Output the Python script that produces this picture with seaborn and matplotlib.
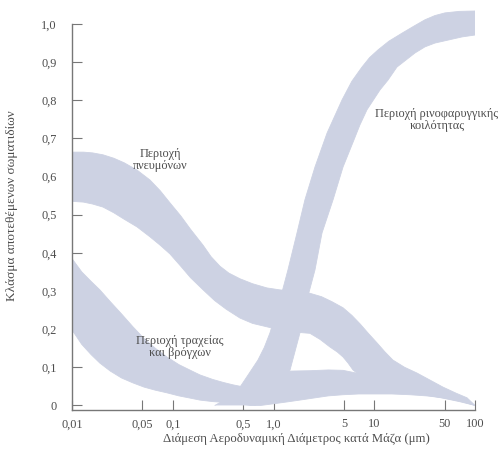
import matplotlib
matplotlib.use("Agg")
import matplotlib.pyplot as plt
from matplotlib.ticker import FixedLocator, FixedFormatter, NullLocator
import pandas as pd
import seaborn as sns

# Mass median aerodynamic diameter (μm) and deposited fraction along the
# upper and lower edges of each regional deposition band.
lung_upper_x = [0.01, 0.013, 0.016, 0.0203, 0.026, 0.033, 0.0442, 0.0594, 0.075,
                0.0939, 0.12, 0.15, 0.20, 0.24, 0.294, 0.36, 0.465, 0.62, 0.862,
                1.15, 1.46, 1.85, 2.30, 3.0, 3.8, 4.90, 6.0, 7.22, 8.8, 10.65,
                12.8, 15.3, 20, 26.5, 36, 48.1, 65, 83.3, 100]
lung_upper_y = [0.664, 0.664, 0.662, 0.657, 0.648, 0.636, 0.617, 0.591, 0.563,
                0.531, 0.497, 0.462, 0.420, 0.390, 0.365, 0.347, 0.332, 0.319, 0.308,
                0.303, 0.300, 0.298, 0.294, 0.285, 0.272, 0.256, 0.236, 0.214, 0.188, 0.164,
                0.140, 0.119, 0.100, 0.085, 0.066, 0.048, 0.032, 0.020, 0.0]
lung_lower_x = [0.01, 0.013, 0.016, 0.0203, 0.026, 0.033, 0.0442, 0.0594, 0.075,
                0.0939, 0.12, 0.15, 0.20, 0.26, 0.34, 0.465, 0.62, 0.862, 1.15,
                1.46, 1.85, 2.30, 2.9, 3.64, 4.30, 4.90, 5.5, 6.15, 7.5, 10.2, 15,
                22.6, 33, 48.1, 70, 100]
lung_lower_y = [0.535, 0.533, 0.528, 0.520, 0.505, 0.488, 0.468, 0.442, 0.420,
                0.397, 0.365, 0.335, 0.303, 0.275, 0.252, 0.229, 0.215, 0.206, 0.198,
                0.193, 0.191, 0.189, 0.173, 0.153, 0.140, 0.127, 0.111, 0.093, 0.075, 0.056, 0.043,
                0.035, 0.027, 0.019, 0.010, 0.0]

tb_upper_x = [0.01, 0.0125, 0.0155, 0.0189, 0.024, 0.031, 0.0403, 0.052, 0.067,
              0.0876, 0.115, 0.15, 0.186, 0.25, 0.32, 0.396, 0.585, 0.92, 1.46,
              2.3, 3.5, 4.9, 7.5, 10.2, 15, 22.6, 33, 48.1, 70, 100]
tb_upper_y = [0.385, 0.350, 0.325, 0.303, 0.272, 0.240, 0.206, 0.175, 0.150,
              0.127, 0.107, 0.092, 0.080, 0.068, 0.060, 0.054, 0.045, 0.067, 0.090,
              0.091, 0.093, 0.092, 0.082, 0.072, 0.062, 0.052, 0.040, 0.028, 0.015, 0.0]
tb_lower_x = [0.01, 0.0125, 0.0155, 0.0189, 0.024, 0.031, 0.0403, 0.052, 0.067,
              0.0876, 0.115, 0.15, 0.186, 0.25, 0.32, 0.396, 0.5, 0.585, 0.75,
              0.98, 1.35, 1.83, 2.6, 3.5, 4.9, 7.0, 10.2, 15, 22.6, 33, 48.1, 70, 100]
tb_lower_y = [0.198, 0.160, 0.133, 0.111, 0.090, 0.072, 0.059, 0.048, 0.040,
              0.033, 0.025, 0.019, 0.014, 0.010, 0.008, 0.006, 0.003, 0.0, 0.0,
              0.004, 0.009, 0.014, 0.020, 0.025, 0.028, 0.030, 0.030, 0.030, 0.028, 0.025,
              0.020, 0.012, 0.0]

naso_upper_x = [0.262, 0.33, 0.40, 0.465, 0.56, 0.701, 0.81, 0.922, 1.03, 1.16,
                1.39, 1.71, 2.05, 2.58, 3.40, 4.79, 6.0, 7.55, 9.0, 10.9, 14, 18.9,
                25, 31.9, 40, 50.3, 70, 100]
naso_upper_y = [0.0, 0.015, 0.032, 0.048, 0.080, 0.119, 0.152, 0.190, 0.232, 0.277,
                0.355, 0.452, 0.539, 0.625, 0.714, 0.801, 0.850, 0.887, 0.912, 0.932,
                0.955, 0.976, 0.995, 1.011, 1.022, 1.029, 1.033, 1.034]
naso_lower_x = [0.655, 1.035, 1.46, 1.83, 2.15, 2.58, 3.03, 3.90, 4.90, 6.29, 7.2,
                8.47, 11.4, 13.7, 16.8, 25.4, 31.9, 40.1, 74.3, 100]
naso_lower_y = [0.0, 0.041, 0.093, 0.190, 0.277, 0.355, 0.452, 0.539, 0.625, 0.696,
                0.735, 0.775, 0.827, 0.853, 0.887, 0.924, 0.940, 0.950, 0.966, 0.971]

x_ticks = [0.01, 0.05, 0.1, 0.5, 1.0, 5, 10, 50, 100]
x_tick_labels = ["0,01", "0,05", "0,1", "0,5", "1,0", "5", "10", "50", "100"]
y_ticks = [0.0, 0.1, 0.2, 0.3, 0.4, 0.5, 0.6, 0.7, 0.8, 0.9, 1.0]
y_tick_labels = ["0", "0,1", "0,2", "0,3", "0,4", "0,5", "0,6", "0,7", "0,8", "0,9", "1,0"]

region_labels = ["Περιοχή\nπνευμόνων", "Περιοχή τραχείας\nκαι βρόγχων",
                 "Περιοχή ρινοφαρυγγικής\nκοιλότητας"]
label_x = [0.075, 0.118, 42.0]
label_y = [0.643, 0.153, 0.748]

x_title = "Διάμεση Αεροδυναμική Διάμετρος κατά Μάζα (μm)"
y_title = "Κλάσμα αποτεθέμενων σωματιδίων"

band_color = "#cdd2e3"
ink = "#4d4d4d"

sns.set_theme(style="ticks")
plt.rcParams["font.family"] = ["Liberation Serif", "DejaVu Serif"]

bands = {
    "lung": (lung_upper_x, lung_upper_y, lung_lower_x, lung_lower_y),
    "tb": (tb_upper_x, tb_upper_y, tb_lower_x, tb_lower_y),
    "naso": (naso_upper_x, naso_upper_y, naso_lower_x, naso_lower_y),
}

rows = []
for name, (ux, uy, lx, ly) in bands.items():
    for i, (x, y) in enumerate(zip(ux, uy)):
        rows.append({"band": name, "edge": name + "_upper", "order": i, "d": x, "f": y})
    for i, (x, y) in enumerate(zip(lx, ly)):
        rows.append({"band": name, "edge": name + "_lower", "order": i, "d": x, "f": y})
edges = pd.DataFrame(rows)

fig = plt.figure(figsize=(5.03, 4.55), dpi=100)
ax = fig.add_axes([72 / 503, 1 - 410 / 455, 403 / 503, (410 - 8.7) / 455])
ax.set_xscale("log")

# filled bands, one polygon per region
for name, (ux, uy, lx, ly) in bands.items():
    px = list(ux) + list(lx)[::-1]
    py = list(uy) + list(ly)[::-1]
    ax.fill(px, py, color=band_color, linewidth=0, zorder=1)

# thin edges in the band colour to soften the polygon outlines
sns.lineplot(data=edges, x="d", y="f", units="edge", estimator=None, sort=False,
             color=band_color, linewidth=0.6, ax=ax, legend=False, zorder=1)

ax.set_xlim(0.01, 100)
ax.set_ylim(-0.012, 1.04)

ax.xaxis.set_major_locator(FixedLocator(x_ticks))
ax.xaxis.set_major_formatter(FixedFormatter(x_tick_labels))
ax.xaxis.set_minor_locator(NullLocator())
ax.yaxis.set_major_locator(FixedLocator(y_ticks))
ax.yaxis.set_major_formatter(FixedFormatter(y_tick_labels))

ax.tick_params(axis="both", direction="in", length=7, width=0.8, color="#777777",
               labelcolor=ink, labelsize=8.8)
ax.tick_params(axis="y", pad=11)
ax.tick_params(axis="x", pad=6)

for side in ("top", "right"):
    ax.spines[side].set_visible(False)
for side in ("left", "bottom"):
    ax.spines[side].set_color("#777777")
    ax.spines[side].set_linewidth(1.0)
ax.spines["left"].set_bounds(-0.012, 1.0)

ax.set_xlabel(x_title, fontsize=9.2, color=ink)
ax.xaxis.set_label_coords(0.558, -0.058)
ax.set_ylabel(y_title, fontsize=9.5, color=ink)
ax.yaxis.set_label_coords(-0.135, 0.51)

for text, x, y in zip(region_labels, label_x, label_y):
    ax.text(x, y, text, ha="center", va="center", fontsize=8.8, color=ink,
            linespacing=1.0, zorder=3)

fig.savefig("out.png", dpi=100, facecolor="white")
